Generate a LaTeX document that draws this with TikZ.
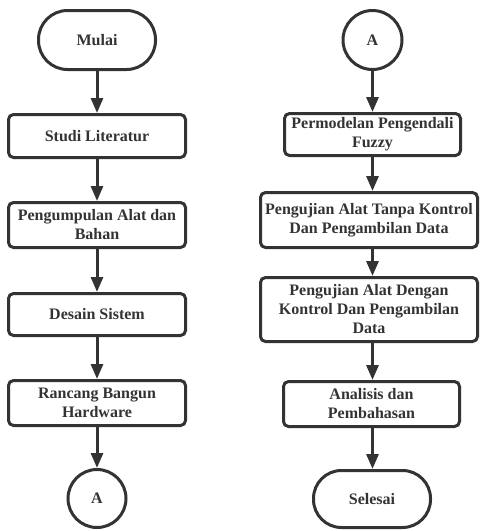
\documentclass[tikz,border=0pt]{standalone}
\usepackage{fontspec}
\setmainfont{Liberation Serif}
\usetikzlibrary{arrows.meta}
\definecolor{ink}{HTML}{333333}
\tikzset{
  box/.style={draw=ink,line width=3pt,rounded corners=5pt,inner sep=0pt,align=center,
    text=ink,font=\bfseries\fontsize{16}{19}\selectfont},
  term/.style={box,rounded corners=29pt,minimum width=117pt,minimum height=59pt},
  konektor/.style={box,sharp corners,circle,minimum size=58pt},
  panah/.style={draw=ink,line width=3pt,-{Triangle[length=15pt,width=12pt]}}
}

\begin{document}
\begin{tikzpicture}[x=1pt,y=-1pt]
  \useasboundingbox (0,0) rectangle (481,531);
  \node[term] (mulai) at (97,40) {Mulai};
  \node[box,minimum width=177pt,minimum height=43pt] (studi) at (97,136) {Studi Literatur};
  \node[box,minimum width=177pt,minimum height=45pt] (alat) at (97,225) {Pengumpulan Alat dan\\Bahan};
  \node[box,minimum width=177pt,minimum height=42pt] (desain) at (97,314.5) {Desain Sistem};
  \node[box,minimum width=177pt,minimum height=45pt] (rancang) at (97,403) {Rancang Bangun\\Hardware};
  \node[konektor] (konA) at (97,498.5) {A};

  \node[konektor,minimum size=59pt] (konB) at (372.5,40) {A};
  \node[box,minimum width=176pt,minimum height=42pt] (fuzzy) at (372.5,134.5) {Permodelan Pengendali\\Fuzzy};
  \node[box,minimum width=217pt,minimum height=55pt] (tanpa) at (369,220) {Pengujian Alat Tanpa Kontrol\\Dan Pengambilan Data};
  \node[box,minimum width=217pt,minimum height=64pt] (dengan) at (369,309.5) {Pengujian Alat Dengan\\Kontrol Dan Pengambilan\\Data};
  \node[box,minimum width=176pt,minimum height=45pt] (analisis) at (371.5,404) {Analisis dan\\Pembahasan};
  \node[term,minimum height=57pt,rounded corners=28pt] (selesai) at (372,499) {Selesai};

  \draw[panah] (mulai) -- (studi);
  \draw[panah] (studi) -- (alat);
  \draw[panah] (alat) -- (desain);
  \draw[panah] (desain) -- (rancang);
  \draw[panah] (rancang) -- (konA);
  \draw[panah] (konB.south) -- (konB.south |- fuzzy.north);
  \draw[panah] (konB.south |- fuzzy.south) -- (konB.south |- tanpa.north);
  \draw[panah] (konB.south |- tanpa.south) -- (konB.south |- dengan.north);
  \draw[panah] (konB.south |- dengan.south) -- (konB.south |- analisis.north);
  \draw[panah] (konB.south |- analisis.south) -- (konB.south |- selesai.north);
\end{tikzpicture}
\end{document}
